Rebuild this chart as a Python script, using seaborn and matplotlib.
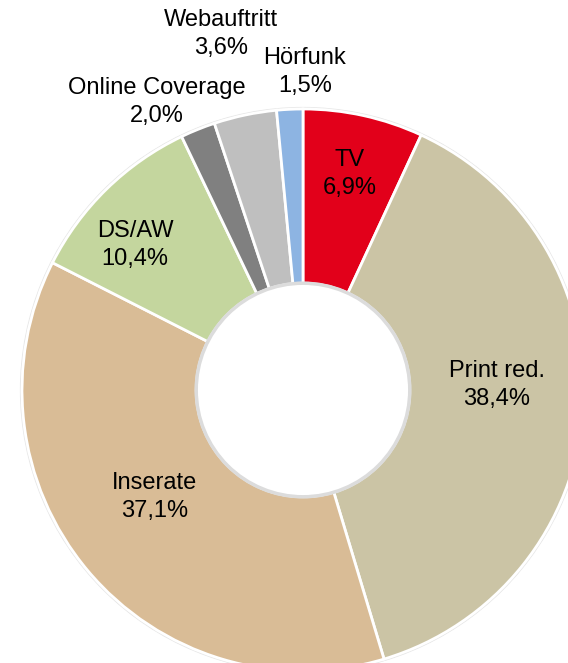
import matplotlib
matplotlib.use('Agg')
import matplotlib.pyplot as plt
import seaborn as sns

# Daten: Anteile der Mediengattungen (im Uhrzeigersinn ab 12 Uhr)
kategorien = ['TV', 'Print red.', 'Inserate', 'DS/AW', 'Online Coverage', 'Webauftritt', 'Hörfunk']
anteile = [6.9, 38.4, 37.1, 10.4, 2.0, 3.6, 1.5]
farben = ['#E2001A', '#CBC4A5', '#D9BC96', '#C4D69E', '#808080', '#BFBFBF', '#8DB4E2']

# Label-Positionen (Achsen-Einheiten, Radius = 1)
label_pos = [(0.167, 0.770), (0.690, 0.018), (-0.527, -0.381), (-0.598, 0.516),
             (-0.520, 1.025), (-0.292, 1.267), (0.007, 1.132)]

sns.set_theme(style='white')
plt.rcParams['font.family'] = ['Liberation Sans', 'DejaVu Sans']

fig = plt.figure(figsize=(5.68, 6.63), dpi=100)
ax = fig.add_axes([0, 0, 1, 1])

# leichter grauer Schatten um den Donut
ax.add_patch(plt.Circle((0, 0), 1.005, color='#e6e6e6', zorder=0))

wedges, _ = ax.pie(anteile, colors=farben, startangle=90, counterclock=False,
                   radius=1.0,
                   wedgeprops=dict(width=0.62, edgecolor='white', linewidth=2))

ax.add_patch(plt.Circle((0, 0), 0.38, facecolor='white', edgecolor='#dcdcdc',
                        linewidth=2.5, zorder=5))

for name, wert, (x, y) in zip(kategorien, anteile, label_pos):
    txt = f"{name}\n{str(wert).replace('.', ',')}%"
    ax.text(x, y, txt, ha='center', va='center', fontsize=17,
            color='black', linespacing=1.35, zorder=6)

# Skalierung: Zentrum bei (303, 390) px, Radius 281 px
r_px = 281.0
ax.set_xlim(-303 / r_px, (568 - 303) / r_px)
ax.set_ylim(-(663 - 390) / r_px, 390 / r_px)
ax.set_aspect('auto')
ax.axis('off')

fig.savefig('out.png', dpi=100, facecolor='white')
plt.close()
